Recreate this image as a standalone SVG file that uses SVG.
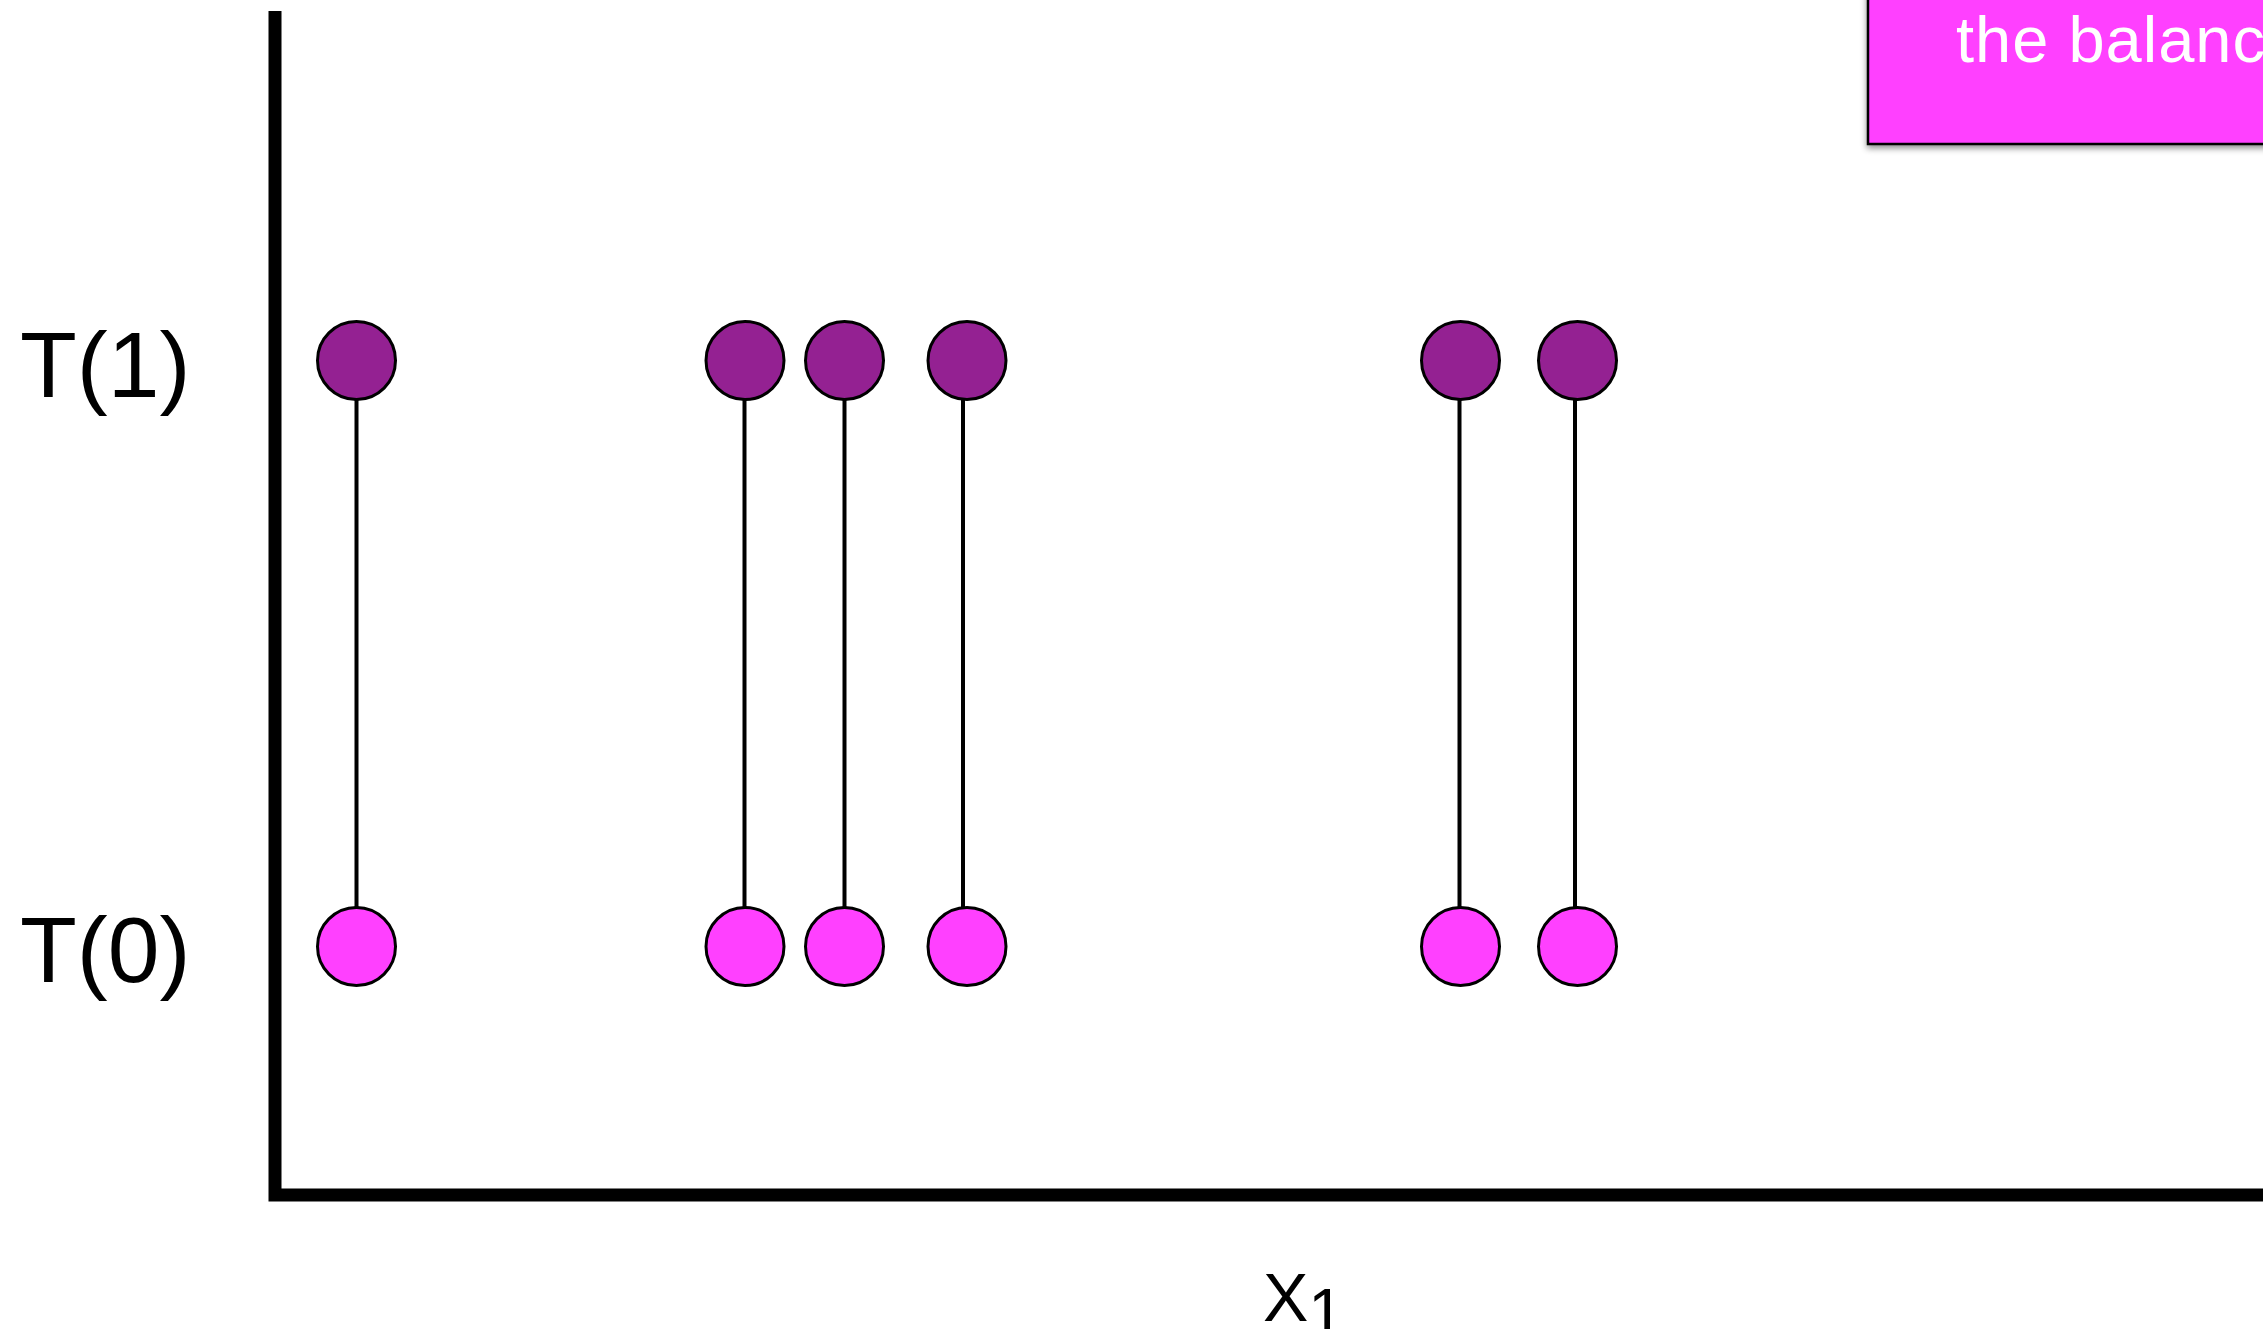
<svg xmlns="http://www.w3.org/2000/svg" width="2263" height="1329" viewBox="0 0 2263 1329">
<style>
.lbl{font-family:"Liberation Sans",Arial,sans-serif;fill:#000}
.t1{fill:#942192;stroke:#000;stroke-width:3}
.t0{fill:#FF40FF;stroke:#000;stroke-width:3}
.stem{stroke:#000;stroke-width:4;fill:none}
.axis{stroke:#000;stroke-width:13;fill:none}
</style>
<defs>
<filter id="sh" x="-10%" y="-10%" width="130%" height="140%">
<feDropShadow dx="0" dy="3" stdDeviation="3" flood-color="#000" flood-opacity="0.45"/>
</filter>
</defs>
<rect width="2263" height="1329" fill="#fff"/>
<g id="axes">
<path class="axis" d="M275 11 V1195 H2263"/>
</g>
<g id="connectors">
<line class="stem" x1="356.5" y1="399" x2="356.5" y2="907"/>
<line class="stem" x1="744.5" y1="399" x2="744.5" y2="907"/>
<line class="stem" x1="844.5" y1="399" x2="844.5" y2="907"/>
<line class="stem" x1="963" y1="399" x2="963" y2="907"/>
<line class="stem" x1="1459.5" y1="399" x2="1459.5" y2="907"/>
<line class="stem" x1="1575" y1="399" x2="1575" y2="907"/>
</g>
<g id="t1-nodes">
<circle id="t1a" class="t1" cx="356.5" cy="360.5" r="39"/>
<circle id="t1b" class="t1" cx="745" cy="360.5" r="39"/>
<circle id="t1c" class="t1" cx="844.5" cy="360.5" r="39"/>
<circle id="t1d" class="t1" cx="967" cy="360.5" r="39"/>
<circle id="t1e" class="t1" cx="1460.5" cy="360.5" r="39"/>
<circle id="t1f" class="t1" cx="1577.5" cy="360.5" r="39"/>
</g>
<g id="t0-nodes">
<circle id="t0a" class="t0" cx="356.5" cy="946.5" r="39"/>
<circle id="t0b" class="t0" cx="745" cy="946.5" r="39"/>
<circle id="t0c" class="t0" cx="844.5" cy="946.5" r="39"/>
<circle id="t0d" class="t0" cx="967" cy="946.5" r="39"/>
<circle id="t0e" class="t0" cx="1460.5" cy="946.5" r="39"/>
<circle id="t0f" class="t0" cx="1577.5" cy="946.5" r="39"/>
</g>
<g id="labels">
<text class="lbl" x="20" y="397" font-size="93">T(1)</text>
<text class="lbl" x="20" y="982" font-size="93">T(0)</text>
<text class="lbl" x="1263" y="1321" font-size="68">X<tspan font-size="64" dy="13">1</tspan></text>
</g>
<g id="note">
<rect x="1868" y="-20" width="440" height="164" fill="#FF40FF" stroke="#000" stroke-width="2.5" filter="url(#sh)"/>
<text x="1956" y="62" font-family="Liberation Sans,Arial,sans-serif" font-size="65" letter-spacing="1" fill="#fff">the balance</text>
</g>
</svg>
